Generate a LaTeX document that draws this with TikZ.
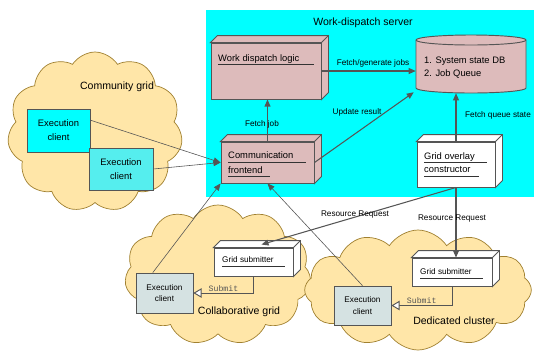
\documentclass[tikz,border=0pt]{standalone}
\usepackage{fontspec}
\setmainfont{Liberation Sans}
\setmonofont{Liberation Mono}
\usetikzlibrary{shapes.symbols,arrows.meta}
\definecolor{servercyan}{HTML}{00FFFF}
\definecolor{boxpink}{HTML}{DDBBBB}
\definecolor{cloudfill}{HTML}{FFE6A8}
\definecolor{cloudedge}{HTML}{A08030}
\definecolor{clientaqua}{HTML}{55EEEE}
\definecolor{clientgrey}{HTML}{D5E2E2}
\definecolor{linegrey}{HTML}{555555}
\newcommand{\nodedepth}[2]{%
 \draw[boxline,fill=#2] (#1.north west) -- ([shift={(7,-7)}]#1.north west) -- ([shift={(7,-7)}]#1.north east) -- ([shift={(7,-7)}]#1.south east) -- (#1.south east) -- (#1.north east) -- cycle;
 \draw[boxline] (#1.north east) -- ([shift={(7,-7)}]#1.north east);}
\begin{document}
\begin{tikzpicture}[x=0.03cm,y=-0.03cm,
 boxline/.style={draw=linegrey,line width=0.8pt},
 srvbox/.style={boxline,fill=boxpink,inner sep=0pt},
 client/.style={draw=linegrey,line width=0.6pt,inner sep=0pt,align=center},
 grid/.style={cloud,cloud puffs=11,cloud puff arc=115,cloud ignores aspect,draw=cloudedge,fill=cloudfill,line width=0.6pt},
 boxtext/.style={anchor=west,inner sep=0pt,font=\fontsize{8}{9}\selectfont},
 uline/.style={line width=0.6pt,black!80},
 lbl/.style={inner sep=1pt,font=\fontsize{7}{8}\selectfont},
 title/.style={inner sep=0pt,font=\fontsize{9}{10}\selectfont},
 flow/.style={linegrey,line width=0.9pt,-{Triangle[length=6pt,width=5pt]}},
 thin flow/.style={linegrey,line width=0.5pt,-{Triangle[length=6pt,width=5pt]}},
 submit/.style={linegrey,line width=0.8pt,-{Triangle[open,fill=white,length=7pt,width=8pt]}}]
\useasboundingbox (0,0) rectangle (535,350);
\node[grid,minimum width=5.25cm,minimum height=4.8cm] (commcloud) at (95,132) {};
\node[grid,minimum width=5.6cm,minimum height=4.2cm] (collabcloud) at (218,275) {};
\node[grid,cloud puffs=12,minimum width=6.8cm,minimum height=3.6cm] (dedcloud) at (418,290) {};
\fill[servercyan] (206,10) rectangle (534,197);
\node[title] (srvtitle) at (363,23) {Work-dispatch server};
\node[title] (commtitle) at (117,87) {Community grid};
\node[title] (collabtitle) at (239,312) {Collaborative grid};
\node[title] (dedtitle) at (454,321) {Dedicated cluster};
\node[srvbox,minimum width=3.3cm,minimum height=1.68cm] (wdl) at (266,71) {};
\nodedepth{wdl}{boxpink}
\node[boxtext] (wdltext) at (218,59) {Work dispatch logic};
\draw[uline] (218,64) -- (314,64);
\node[srvbox,minimum width=2.79cm,minimum height=1.23cm] (cf) at (267.5,162.5) {};
\nodedepth{cf}{boxpink}
\node[boxtext] (cftext) at (228,155) {Communication};
\draw[uline] (228,162) -- (306,162);
\node[boxtext] (cftextb) at (228,170) {frontend};
\draw[uline] (228,176) -- (270,176);
\node[inner sep=0pt,minimum width=3.3cm,minimum height=1.74cm] (db) at (471,64) {};
\draw[boxline,fill=boxpink] (416,40) -- (416,88) arc[start angle=180,end angle=0,x radius=55,y radius=5] -- (526,40) arc[start angle=0,end angle=-180,x radius=55,y radius=5] -- cycle;
\draw[boxline] (416,40) arc[start angle=180,end angle=0,x radius=55,y radius=5];
\node[boxtext] (dbtext) at (424,61) {1. System state DB};
\node[boxtext] (dbtextb) at (424,74) {2. Job Queue};
\node[srvbox,fill=white,minimum width=2.34cm,minimum height=1.35cm] (go) at (456,164.5) {};
\nodedepth{go}{white}
\node[boxtext] (gotext) at (424,157) {Grid overlay};
\draw[uline] (424,162) -- (487,162);
\node[boxtext] (gotextb) at (424,170) {constructor};
\draw[uline] (424,176) -- (479,176);
\node[client,fill=servercyan,minimum width=1.89cm,minimum height=1.29cm,font=\fontsize{8}{12}\selectfont] (ca) at (58.5,130.5) {Execution\\client};
\node[client,fill=clientaqua,minimum width=1.92cm,minimum height=1.26cm,font=\fontsize{8}{12}\selectfont] (cb) at (121,169) {Execution\\client};
\node[srvbox,fill=white,minimum width=2.37cm,minimum height=0.84cm] (gsa) at (253.5,262) {};
\nodedepth{gsa}{white}
\node[boxtext,font=\fontsize{7}{8}\selectfont] (gsatext) at (222,260) {Grid submitter};
\draw[uline] (222,266) -- (285,266);
\node[client,fill=clientgrey,minimum width=1.71cm,minimum height=1.2cm,font=\fontsize{7}{10}\selectfont] (cc) at (164.5,293) {Execution\\client};
\node[srvbox,fill=white,minimum width=2.4cm,minimum height=0.84cm] (gsb) at (452,272) {};
\nodedepth{gsb}{white}
\node[boxtext,font=\fontsize{7}{8}\selectfont] (gsbtext) at (420,272) {Grid submitter};
\draw[uline] (420,278) -- (483,278);
\node[client,fill=clientgrey,minimum width=1.71cm,minimum height=1.17cm,font=\fontsize{7}{10}\selectfont] (cd) at (362.5,305.5) {Execution\\client};
\draw[thin flow] (ca.18) -- (cf.west);
\draw[thin flow] (cb.east) -- (cf.west);
\draw[thin flow] (cc.120) -- (cf.south west);
\draw[thin flow] (cd.north) -- (cf.south);
\draw[flow] (cf.north) -- (cf.north |- wdl.south);
\draw[flow] (wdl.east) -- (wdl.east -| db.west);
\draw[flow] (cf.east) -- ([shift={(-2,-1)}]db.south west);
\draw[flow] (go.north) -- (go.north |- db.south);
\draw[flow] (go.south) -- ([shift={(8,-3)}]gsa.north);
\draw[flow] (go.south) -- (go.south |- gsb.north);
\draw[submit] (gsa.south) |- node[pos=0.75,above,inner sep=1pt,font=\fontsize{7}{8}\selectfont\ttfamily,text=linegrey] (subtexta) {Submit} (cc.east);
\draw[submit] (gsb.south) |- node[pos=0.75,above,inner sep=1pt,font=\fontsize{7}{8}\selectfont\ttfamily,text=linegrey] (subtextb) {Submit} (cd.east);
\node[lbl] (fetchjob) at (262,124) {Fetch job};
\node[lbl] (fetchgen) at (373,63) {Fetch/generate jobs};
\node[lbl] (update) at (357,112) {Update result};
\node[lbl] (fetchq) at (498,115) {Fetch queue state};
\node[lbl] (resreqa) at (355,215) {Resource Request};
\node[lbl] (resreqb) at (452,219) {Resource Request};
\end{tikzpicture}
\end{document}
